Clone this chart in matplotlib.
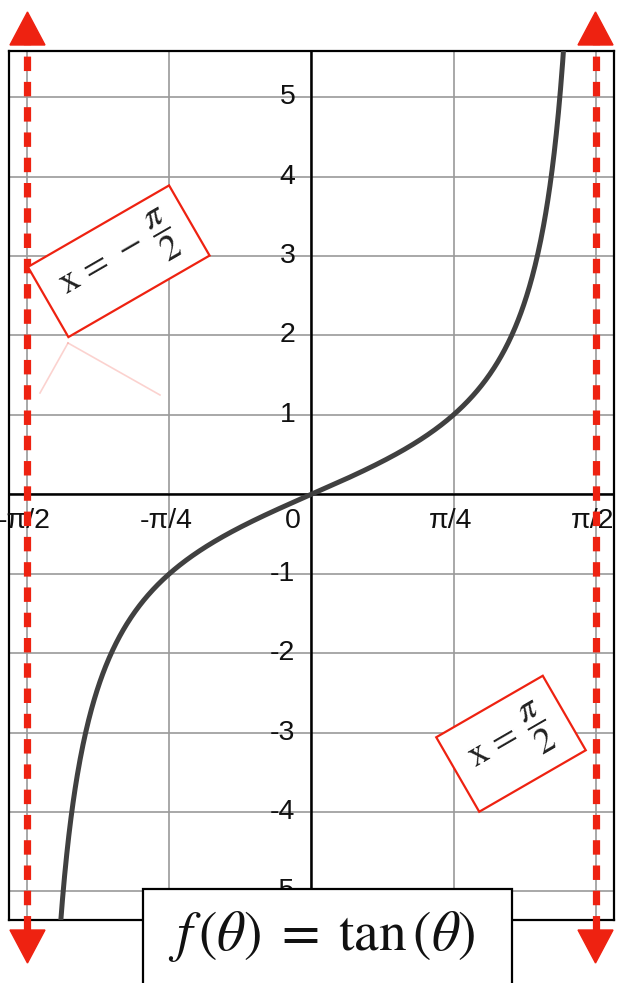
import numpy as np
import matplotlib
matplotlib.use("Agg")
import matplotlib.pyplot as plt
from matplotlib.patches import Rectangle, Polygon
from matplotlib.transforms import ScaledTranslation

plt.rcParams['font.family'] = ['Liberation Sans', 'DejaVu Sans']
plt.rcParams['mathtext.fontset'] = 'stix'

# --- data ---
x_ticks = [-np.pi / 2, -np.pi / 4, 0, np.pi / 4, np.pi / 2]
x_tick_labels = ['-π/2', '-π/4', '0', 'π/4', 'π/2']
y_ticks = [-5, -4, -3, -2, -1, 0, 1, 2, 3, 4, 5]
asymptotes = [-np.pi / 2, np.pi / 2]
asymptote_labels = [r'$\mathrm{x}\,=\,-\;\dfrac{\pi}{2}$', r'$\mathrm{x}\,=\;\dfrac{\pi}{2}$']
theta = np.linspace(-np.pi / 2 + 0.01, np.pi / 2 - 0.01, 800)
f_theta = np.tan(theta)

# --- layout (pixels of a 617x983 image) ---
W, H = 617, 983
DPI = 100
ax_left, ax_right, ax_top, ax_bottom = 9, 614, 51, 920
xlim = (-1.673, 1.673)
ylim = (-5.36, 5.58)
RED = '#ee2211'
TICK_FS = 20.5

fig = plt.figure(figsize=(W / DPI, H / DPI), dpi=DPI)
ax = fig.add_axes([ax_left / W, 1 - ax_bottom / H,
                   (ax_right - ax_left) / W, (ax_bottom - ax_top) / H])
ax.set_xlim(*xlim)
ax.set_ylim(*ylim)

# px per data unit, used for arrow heads and nudges
sx = (ax_right - ax_left) / (xlim[1] - xlim[0])
sy = (ax_bottom - ax_top) / (ylim[1] - ylim[0])

ax.set_xticks(x_ticks)
ax.set_yticks(y_ticks)
ax.set_xticklabels([])
ax.set_yticklabels([])
ax.tick_params(length=0)
ax.grid(True, color='#9a9a9a', lw=1.2, zorder=0)
ax.set_axisbelow(True)
for s in ax.spines.values():
    s.set_linewidth(1.6)
    s.set_color('black')

ax.axhline(0, color='black', lw=1.8, zorder=2)
ax.axvline(0, color='black', lw=1.8, zorder=2)

# tick labels next to the axes
off_y = ax.transData + ScaledTranslation(-16 / DPI, 0, fig.dpi_scale_trans)
for v in y_ticks:
    if v == 0:
        continue
    ax.text(0, v, str(v), transform=off_y, ha='right', va='center',
            fontsize=TICK_FS, color='#111111', zorder=2, clip_on=False)

off_x = ax.transData + ScaledTranslation(0, -14 / DPI, fig.dpi_scale_trans)
off_0 = ax.transData + ScaledTranslation(-11 / DPI, -14 / DPI, fig.dpi_scale_trans)
for v, lab in zip(x_ticks, x_tick_labels):
    if lab == '0':
        ax.text(v, 0, lab, transform=off_0, ha='right', va='top',
                fontsize=TICK_FS, color='#111111', clip_on=False)
    else:
        ax.text(v - 3 / sx, 0, lab, transform=off_x, ha='center', va='top',
                fontsize=TICK_FS, color='#111111', clip_on=False)

# the curve
ax.plot(theta, f_theta, color='#404040', lw=3.6, zorder=3,
        solid_capstyle='round')

# asymptotes with arrow heads
head_w, head_l = 17.5, 33
top_base = ylim[1] + 6 / sy
bot_base = ylim[0] - 10 / sy
for a in asymptotes:
    ax.plot([a, a], [bot_base, top_base], color=RED, lw=5.2,
            dashes=(2.0, 1.5), clip_on=False, zorder=4)
    ax.add_patch(Polygon([[a - head_w / sx, top_base], [a + head_w / sx, top_base],
                          [a, top_base + head_l / sy]], closed=True,
                         color=RED, clip_on=False, zorder=4))
    ax.add_patch(Polygon([[a - head_w / sx, bot_base], [a + head_w / sx, bot_base],
                          [a, bot_base - head_l / sy]], closed=True,
                         color=RED, clip_on=False, zorder=4))


def inch(x, y):
    return x / DPI, (H - y) / DPI


# rotated asymptote labels (centre px, width px, height px)
boxes = [((118.75, 261.25), 163, 81), ((511, 743.75), 123, 86)]
for (c, w, h), lab in zip(boxes, asymptote_labels):
    cx, cy = inch(*c)
    fig.add_artist(Rectangle((cx - w / 2 / DPI, cy - h / 2 / DPI), w / DPI, h / DPI,
                             angle=30, rotation_point='center',
                             transform=fig.dpi_scale_trans, facecolor='white',
                             edgecolor=RED, lw=1.6, zorder=6))
    fig.text(cx, cy, lab, transform=fig.dpi_scale_trans, rotation=30,
             rotation_mode='anchor', ha='center', va='center',
             fontsize=26, color='#222222', zorder=7)

# faint reflection under the left label
for p in [(40, 393), (160, 395)]:
    x0, y0 = inch(68, 343)
    x1, y1 = inch(*p)
    fig.add_artist(plt.Line2D([x0, x1], [y0, y1], transform=fig.dpi_scale_trans,
                              color=RED, lw=1.2, alpha=0.2, zorder=5))

# title box
tx, ty = inch(143, 995)
fig.add_artist(Rectangle((tx, ty), (512 - 143) / DPI, (995 - 889) / DPI,
                         transform=fig.dpi_scale_trans, facecolor='white',
                         edgecolor='black', lw=1.6, zorder=6))
cx, cy = inch(322, 936)
fig.text(cx, cy, r'$f\,(\theta)\;=\;\mathrm{tan}\,(\theta)$',
         transform=fig.dpi_scale_trans, ha='center', va='center',
         fontsize=40, color='#111111', zorder=7)

fig.savefig('out.png', dpi=DPI)
